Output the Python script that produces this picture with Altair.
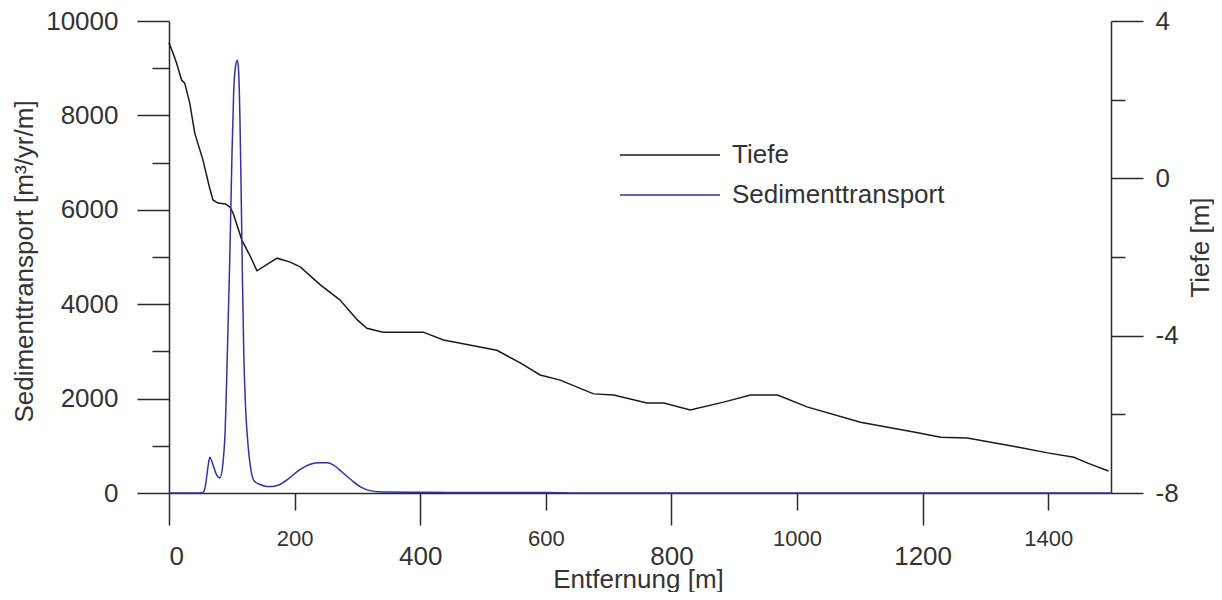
import altair as alt
import pandas as pd

# ---- data ----
dist_tiefe = [0, 6, 12, 20, 25, 33, 41, 54, 64, 70, 78, 90, 97, 102, 116, 130, 140, 150,
              172, 193, 209, 241, 272, 300, 315, 341, 405, 437, 464, 522, 560, 591, 623,
              676, 708, 761, 788, 830, 883, 926, 969, 1016, 1101, 1186, 1229, 1271, 1351,
              1399, 1441, 1463, 1496]
tiefe = [3.45, 3.2, 2.93, 2.5, 2.42, 1.92, 1.15, 0.47, -0.2, -0.55, -0.63, -0.65, -0.73,
         -0.88, -1.57, -2.0, -2.35, -2.25, -2.03, -2.13, -2.25, -2.71, -3.09, -3.6, -3.81,
         -3.91, -3.91, -4.11, -4.19, -4.37, -4.7, -5.0, -5.13, -5.48, -5.51, -5.71, -5.71,
         -5.89, -5.69, -5.51, -5.51, -5.81, -6.2, -6.45, -6.58, -6.6, -6.83, -6.98, -7.09,
         -7.24, -7.44]

dist_sed = [0, 50, 54, 58, 62, 65, 70, 76, 81, 86, 89, 93, 97, 100, 103, 106, 109, 111,
            113, 115, 117, 119, 122, 126, 131, 136, 145, 155, 165, 175, 190, 209, 225, 240,
            252, 262, 275, 290, 305, 320, 340, 400, 500, 600, 650, 1500]
sed = [0, 0, 10, 150, 550, 760, 600, 380, 320, 650, 1190, 3000, 5100, 7000, 8500, 9050,
       9170, 8900, 7900, 6300, 4500, 3000, 1800, 1000, 450, 250, 180, 140, 140, 170, 300,
       500, 610, 640, 640, 590, 450, 280, 130, 50, 20, 15, 12, 8, 0, 0]

x_major = [0, 400, 800, 1200]
x_minor = [200, 600, 1000, 1400]
y_left_major = [0, 2000, 4000, 6000, 8000, 10000]
y_left_minor = [1000, 3000, 5000, 7000, 9000]
y_right_major = [-8, -4, 0, 4]
y_right_minor = [-6, -2, 2]
series_names = ["Tiefe", "Sedimenttransport"]
series_colors = ["#1a1a1a", "#3030b0"]

FONT = "Liberation Sans"
TXT = "#333333"
AX = "#2a2a2a"

df_t = pd.DataFrame({"x": dist_tiefe, "y": tiefe, "series": series_names[0]})
df_s = pd.DataFrame({"x": dist_sed, "y": sed, "series": series_names[1]})

xscale = alt.Scale(domain=[0, 1500], nice=False, zero=False)
yl_scale = alt.Scale(domain=[0, 10000], nice=False, zero=False)
yr_scale = alt.Scale(domain=[-8, 4], nice=False, zero=False)
cscale = alt.Scale(domain=series_names, range=series_colors)
legend = alt.Legend(
    title=None, orient="none", legendX=448, legendY=121, padding=0,
    symbolType="M-1,0H9", symbolSize=400, symbolStrokeWidth=1.5,
    labelFont=FONT, labelFontSize=26, labelColor=TXT, labelOffset=89,
    rowPadding=14, labelLimit=0,
)

tiefe_layer = alt.Chart(df_t).mark_line(strokeWidth=1.5).encode(
    x=alt.X("x:Q", scale=xscale, axis=None),
    y=alt.Y("y:Q", scale=yr_scale, axis=None),
    color=alt.Color("series:N", scale=cscale, legend=legend),
)

sed_layer = alt.Chart(df_s).mark_line(strokeWidth=1.5, interpolate="monotone").encode(
    x=alt.X("x:Q", scale=xscale, axis=None),
    y=alt.Y("y:Q", scale=yl_scale, axis=None),
    color=alt.Color("series:N", scale=cscale, legend=legend),
)


def x_axis_layer(vals, axis):
    return alt.Chart(pd.DataFrame({"v": vals})).mark_point(opacity=0).encode(
        x=alt.X("v:Q", scale=xscale, axis=axis))


def y_axis_layer(vals, scale, axis):
    return alt.Chart(pd.DataFrame({"v": vals})).mark_point(opacity=0).encode(
        y=alt.Y("v:Q", scale=scale, axis=axis))


x_major_layer = x_axis_layer(x_major, alt.Axis(
    orient="bottom", values=x_major, tickSize=32, labelFontSize=26, labelPadding=18,
    format="d", title="Entfernung [m]", titleX=469, titleY=94,
    titleBaseline="alphabetic", titleAlign="center", titleFontSize=26))

x_minor_layer = x_axis_layer(x_minor, alt.Axis(
    orient="bottom", values=x_minor, tickSize=17, labelFontSize=22, labelPadding=18,
    format="d", domain=False, title=None))

yl_major_layer = y_axis_layer(y_left_major, yl_scale, alt.Axis(
    orient="left", values=y_left_major, tickSize=32, labelPadding=19,
    labelFontSize=26, format="d",
    title="Sedimenttransport [m³/yr/m]", titleAngle=270, titleX=-137, titleY=240,
    titleBaseline="alphabetic", titleAlign="center", titleFontSize=26))

yl_minor_layer = y_axis_layer(y_left_minor, yl_scale, alt.Axis(
    orient="left", values=y_left_minor, tickSize=17, labels=False,
    domain=False, title=None))

yr_major_layer = y_axis_layer(y_right_major, yr_scale, alt.Axis(
    orient="right", values=y_right_major, tickSize=32, labelPadding=12,
    labelAlign="left", labelFontSize=26, labelExpr="toString(datum.value)",
    title="Tiefe [m]", titleAngle=270, titleX=97, titleY=226,
    titleBaseline="alphabetic", titleAlign="center", titleFontSize=26))

yr_minor_layer = y_axis_layer(y_right_minor, yr_scale, alt.Axis(
    orient="right", values=y_right_minor, tickSize=14, labels=False,
    domain=False, title=None))

chart = alt.layer(
    x_major_layer, x_minor_layer, yl_major_layer, yl_minor_layer,
    yr_major_layer, yr_minor_layer, tiefe_layer, sed_layer,
).resolve_scale(
    x="independent", y="independent", color="shared"
).properties(
    width=942, height=472,
    autosize=alt.AutoSizeParams(type="none"),
    padding={"left": 161, "top": 13, "right": 103, "bottom": 99},
).configure_view(stroke=None).configure_axis(
    grid=False, domainColor=AX, domainWidth=1.5, tickColor=AX, tickWidth=1.5,
    labelFont=FONT, titleFont=FONT, labelColor=TXT, titleColor=TXT,
    titleFontWeight="normal",
)

chart.save("out.html", embed_options={"renderer": "svg", "actions": False})
